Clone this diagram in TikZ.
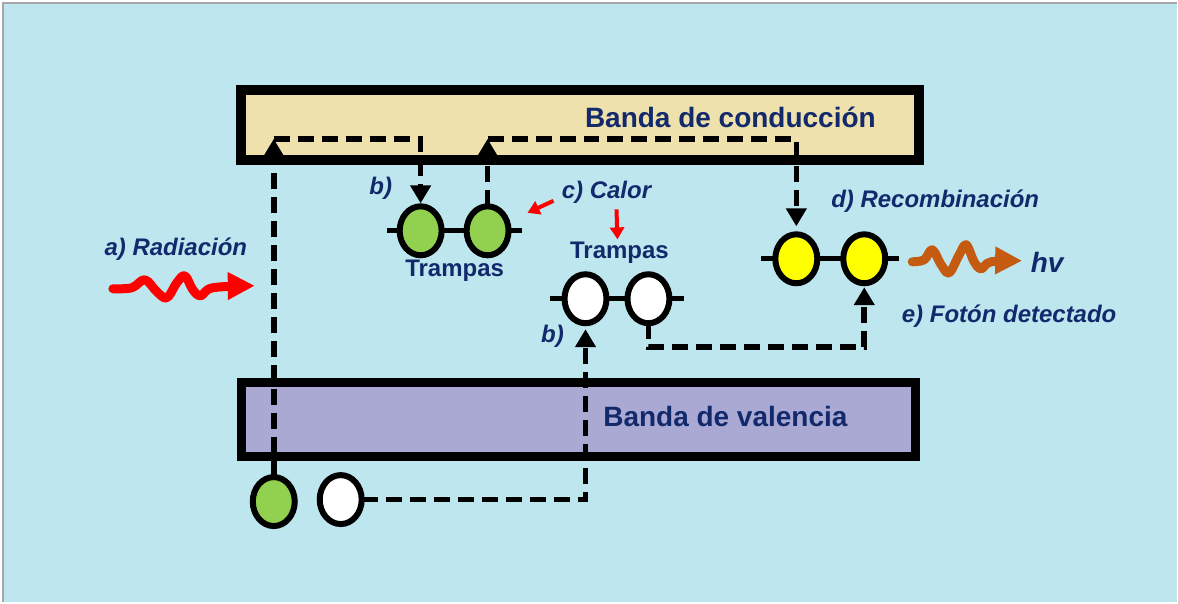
\documentclass[tikz,border=0pt]{standalone}
\usepackage{fontspec}
\setmainfont{Liberation Sans}
\usetikzlibrary{arrows.meta,shapes.geometric}
\definecolor{cSky}{HTML}{BDE6EF}
\definecolor{cCond}{HTML}{EEE1AC}
\definecolor{cVal}{HTML}{A9A9D4}
\definecolor{cInk}{HTML}{12296B}
\definecolor{cTrapG}{HTML}{92D050}
\definecolor{cTrapY}{HTML}{FFFF00}
\definecolor{cRad}{HTML}{FF0000}
\definecolor{cPhoton}{HTML}{C55A11}

\begin{document}
\begin{tikzpicture}[
  x=0.5pt, y=-0.5pt,
  band/.style={rectangle, draw=black, line width=5pt, fill=#1, inner sep=0pt,
               minimum width=339.5pt, minimum height=35pt},
  trap/.style={ellipse, draw=black, line width=3pt, fill=#1, inner sep=0pt, outer sep=0pt,
               minimum width=21pt, minimum height=24.5pt},
  bar/.style={line width=2.5pt},
  hop/.style={line width=2.8pt, dash pattern=on 8pt off 4pt,
              -{Triangle[length=9pt,width=10pt]}},
  heat/.style={line width=2pt, draw=cRad, -{Triangle[length=6pt,width=7pt]}},
  wave/.style={line width=4.5pt, draw=#1, line cap=round, line join=round,
               -{Triangle[length=13.5pt,width=13pt,fill=#1]}},
  lab/.style={font=\bfseries\itshape\fontsize{12}{14}\selectfont, text=cInk, inner sep=0pt},
  trlab/.style={font=\bfseries\fontsize{12}{14}\selectfont, text=cInk, inner sep=0pt},
  bandlab/.style={font=\bfseries\fontsize{14}{16}\selectfont, text=cInk, inner sep=0pt},
]

% ---- background ----
\fill[white] (0,0) rectangle (1178,603);
\fill[cSky] (3,3) rectangle (1178,603);
\draw[black!35, line width=1pt] (3,603) -- (3,3) -- (1178,3);

% ---- bands ----
\node[band=cCond] (cb) at (580.5,125) {};
\node[band=cVal, line width=4.5pt, minimum width=337.5pt, minimum height=37pt] (vb) at (579,419.5) {};
\node[bandlab] at (731,117) {Banda de conducción};
\node[bandlab] at (726,417) {Banda de valencia};

% ---- trap pairs ----
\foreach \p/\xa/\xb/\y/\c/\s in {gt/421/488/231/cTrapG/13, wt/586/649/299/white/15, yt/797/865/259/cTrapY/14} {
  \node[trap=\c] (\p1) at (\xa,\y) {};
  \node[trap=\c] (\p2) at (\xb,\y) {};
  \draw[bar] (\p1.west) -- ++(-\s,0) (\p1.east) -- (\p2.west) (\p2.east) -- ++(\s,0);
}

% ---- electron / hole below the valence band ----
\node[trap=cTrapG] (eg) at (274,502) {};
\node[trap=white] (eh) at (341,500) {};

% ---- transitions ----
\coordinate (lift1) at (eg.north |- 0,139);
\coordinate (lift2) at (gt2.north |- 0,139);
\draw[hop] (eg.north) -- (lift1);
\draw[hop, shorten >=1.5pt] (lift1) -| (gt1.north);
\draw[hop] (gt2.north) -- (lift2);
\draw[hop, shorten >=4pt] (lift2) -| (yt1.north);
\draw[hop, shorten >=3pt] (eh.east) -| (wt1.south);
\draw[hop, shorten >=2pt] (wt2.south) -- ++(0,24) -| (yt2.south);

% ---- labels ----
\node[lab] (rad) at (176,249) {a) Radiación};
\node[lab] at (381,188) {b)};
\node[trlab] at (455,271) {Trampas};
\node[lab] (calor) at (607,192) {c) Calor};
\node[trlab] (trw) at (620,253) {Trampas};
\node[lab] at (553,337) {b)};
\node[lab] at (936,201) {d) Recombinación};
\node[lab, font=\bfseries\itshape\fontsize{14}{16}\selectfont] (hv) at (1048,263) {hv};
\node[lab] at (1010,316) {e) Fotón detectado};

% ---- heat arrows ----
\draw[heat] ([shift={(-8,9)}]calor.west) -- ++(-26,12);
\draw[heat] ([shift={(10,6)}]calor.south) -- ++(1,30);

% ---- incoming radiation and emitted photon ----
\draw[wave=cRad] plot[smooth, tension=0.6] coordinates
  {(113,289) (132,288) (145,280) (157,292) (167,298) (177,283) (185,276) (193,290) (201,296) (213,288) (255,286)};
\draw[wave=cPhoton] plot[smooth, tension=0.6] coordinates
  {(913,262) (925,260) (933,250) (942,265) (950,273) (960,255) (967,245) (975,262) (982,269) (992,262) (1023,261)};

\end{tikzpicture}
\end{document}
